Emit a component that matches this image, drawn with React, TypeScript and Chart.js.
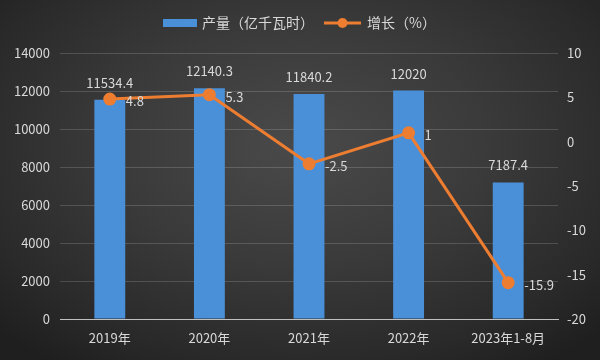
import React, { useEffect, useRef } from "react";
import { Chart, registerables } from "chart.js";

Chart.register(...registerables);

const categories = ["2019年", "2020年", "2021年", "2022年", "2023年1-8月"];
const outputValues = [11534.4, 12140.3, 11840.2, 12020, 7187.4];
const growthValues = [4.8, 5.3, -2.5, 1, -15.9];
const outputLabels = ["11534.4", "12140.3", "11840.2", "12020", "7187.4"];
const growthLabels = ["4.8", "5.3", "-2.5", "1", "-15.9"];
const legendBar = "产量（亿千瓦时）";
const legendLine = "增长（%）";

const FONT = '"Noto Sans CJK SC", "Noto Sans", sans-serif';
const TEXT = "#d9d9d9";
const BLUE = "#4a90d9";
const ORANGE = "#ed7d31";

const labelsPlugin = {
  id: "customLabels",
  afterDatasetsDraw(chart: any) {
    const ctx = chart.ctx;
    ctx.save();
    ctx.font = `13px ${FONT}`;
    ctx.fillStyle = TEXT;
    const barMeta = chart.getDatasetMeta(0);
    barMeta.data.forEach((el: any, i: number) => {
      ctx.textAlign = "center";
      ctx.textBaseline = "middle";
      ctx.fillText(outputLabels[i], el.x, el.y - 17);
    });
    const lineMeta = chart.getDatasetMeta(1);
    lineMeta.data.forEach((el: any, i: number) => {
      ctx.textAlign = "left";
      ctx.textBaseline = "middle";
      ctx.fillText(growthLabels[i], el.x + 16, el.y + 2);
    });
    ctx.restore();
  },
  afterDraw(chart: any) {
    const ctx = chart.ctx;
    ctx.save();
    ctx.font = `14px ${FONT}`;
    ctx.textBaseline = "middle";
    ctx.textAlign = "left";
    const y = 23;
    ctx.fillStyle = BLUE;
    ctx.fillRect(163, y - 4, 34, 8);
    ctx.fillStyle = TEXT;
    ctx.fillText(legendBar, 202, y);
    ctx.strokeStyle = ORANGE;
    ctx.lineWidth = 3;
    ctx.beginPath();
    ctx.moveTo(324, y);
    ctx.lineTo(361, y);
    ctx.stroke();
    ctx.fillStyle = ORANGE;
    ctx.beginPath();
    ctx.arc(342.5, y, 5, 0, Math.PI * 2);
    ctx.fill();
    ctx.fillStyle = TEXT;
    ctx.fillText(legendLine, 367, y);
    ctx.restore();
  },
};

export default function App() {
  const ref = useRef<HTMLCanvasElement | null>(null);
  useEffect(() => {
    document.body.style.margin = "0";
    if (!ref.current) return;
    const chart = new Chart(ref.current, {
      type: "bar",
      data: {
        labels: categories,
        datasets: [
          {
            type: "bar",
            label: legendBar,
            data: outputValues,
            backgroundColor: BLUE,
            yAxisID: "y",
            barPercentage: 0.31,
            categoryPercentage: 1,
            order: 2,
          },
          {
            type: "line",
            label: legendLine,
            data: growthValues,
            borderColor: ORANGE,
            backgroundColor: ORANGE,
            borderWidth: 3,
            pointRadius: 5,
            pointHoverRadius: 5,
            pointBackgroundColor: ORANGE,
            pointBorderColor: ORANGE,
            yAxisID: "y1",
            order: 1,
          } as any,
        ],
      },
      options: {
        animation: false,
        responsive: true,
        maintainAspectRatio: false,
        layout: { padding: { top: 53, left: 0, right: 0, bottom: 0 } },
        plugins: {
          legend: { display: false },
          tooltip: { enabled: false },
        },
        scales: {
          x: {
            grid: { display: false, drawTicks: false },
            border: { display: true, color: "#bfbfbf", width: 1 },
            ticks: { color: TEXT, font: { family: FONT, size: 13 }, padding: 11, maxRotation: 0, autoSkip: false },
            afterFit: (s: any) => {
              s.height = 41;
            },
          },
          y: {
            position: "left",
            min: 0,
            max: 14000,
            ticks: {
              stepSize: 2000,
              color: TEXT,
              font: { family: FONT, size: 13 },
              padding: 10,
              callback: (v: any) => String(v),
            },
            grid: { color: "rgba(255,255,255,0.16)", lineWidth: 1, drawTicks: false },
            border: { display: false },
            afterFit: (s: any) => {
              s.width = 60;
            },
          },
          y1: {
            position: "right",
            min: -20,
            max: 10,
            ticks: {
              stepSize: 5,
              color: TEXT,
              font: { family: FONT, size: 13 },
              padding: 9,
              callback: (v: any) => String(v),
            },
            grid: { drawOnChartArea: false, drawTicks: false },
            border: { display: false },
            afterFit: (s: any) => {
              s.width = 42;
            },
          },
        },
      },
      plugins: [labelsPlugin],
    });
    return () => chart.destroy();
  }, []);

  return (
    <div
      style={{
        position: "absolute",
        left: 0,
        top: 0,
        width: 600,
        height: 360,
        background:
          "radial-gradient(ellipse 70% 75% at 50% 40%, #4a4a4a 0%, #3a3a3a 45%, #2a2a2a 80%, #1f1f1f 100%)",
      }}
    >
      <canvas ref={ref} />
    </div>
  );
}
